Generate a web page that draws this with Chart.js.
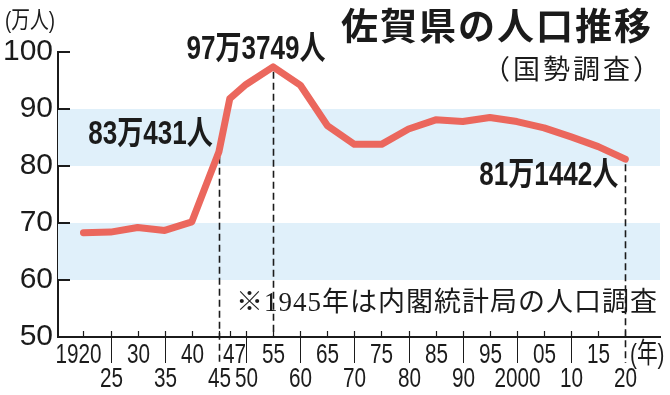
<!DOCTYPE html>
<html>
<head>
<meta charset="utf-8">
<script src="https://cdn.jsdelivr.net/npm/chart.js@4.4.0/dist/chart.umd.min.js"></script>
<style>
  html, body { margin: 0; padding: 0; background: #fff; }
  #wrap { width: 670px; height: 395px; }
</style>
</head>
<body>
<div id="wrap"><canvas id="popChart" width="670" height="395"></canvas></div>
<script>
// 佐賀県の人口（万人）
const years = [1920, 1925, 1930, 1935, 1940, 1945, 1947, 1950, 1955, 1960, 1965,
               1970, 1975, 1980, 1985, 1990, 1995, 2000, 2005, 2010, 2015, 2020];
const population = [68.3, 68.4, 69.2, 68.7, 70.2, 82.5, 91.8, 94.3, 97.4, 94.2, 87.1,
                    83.8, 83.8, 86.5, 88.1, 87.8, 88.5, 87.8, 86.7, 85.1, 83.4, 81.2];

const tickYears  = [1920, 1925, 1930, 1935, 1940, 1945, 1947, 1950, 1955, 1960, 1965,
                    1970, 1975, 1980, 1985, 1990, 1995, 2000, 2005, 2010, 2015, 2020];
const tickLabels = ['1920', '25', '30', '35', '40', '45', '47', '50', '55', '60', '65',
                    '70', '75', '80', '85', '90', '95', '2000', '05', '10', '15', '20'];
// years whose label sits on the lower row
const lowerRowYears = [1925, 1935, 1945, 1950, 1960, 1970, 1980, 1990, 2000, 2010, 2020];

const yTicks = [50, 60, 70, 80, 90, 100];
const bands = [[60, 70], [80, 90]];

const callouts = [
    { year: 1945, value: 82.5, text: '83万431人' },
    { year: 1955, value: 97.4, text: '97万3749人' },
    { year: 2020, value: 81.2, text: '81万1442人' }
];

const SANS = '"Liberation Sans", "Noto Sans CJK JP", sans-serif';
const INK = '#1b1b1b';

// text squeezed horizontally, like the condensed type of the original
function narrowText(ctx, text, x, y, align, font, sx) {
    ctx.save();
    ctx.font = font;
    ctx.textAlign = align;
    ctx.textBaseline = 'middle';
    ctx.translate(x, y);
    ctx.scale(sx, 1);
    ctx.fillText(text, 0, 0);
    ctx.restore();
}

const decorPlugin = {
    id: 'decor',
    beforeDatasetsDraw(chart) {
        const ctx = chart.ctx, a = chart.chartArea;
        const xs = chart.scales.x, ys = chart.scales.y;
        ctx.save();
        // light blue bands
        ctx.fillStyle = '#e0f0fa';
        bands.forEach(b => {
            const t = ys.getPixelForValue(b[1]), btm = ys.getPixelForValue(b[0]);
            ctx.fillRect(a.left, t, a.right - a.left, btm - t);
        });
        // dashed guide lines
        ctx.strokeStyle = INK;
        ctx.lineWidth = 1.6;
        ctx.setLineDash([7, 4]);
        callouts.forEach(c => {
            const x = Math.round(xs.getPixelForValue(c.year)) + 0.5;
            const yTop = ys.getPixelForValue(c.value) + 5;
            const yEnd = lowerRowYears.includes(c.year) ? a.bottom + 26 : a.bottom;
            ctx.beginPath();
            ctx.moveTo(x, yTop);
            ctx.lineTo(x, yEnd);
            ctx.stroke();
        });
        ctx.setLineDash([]);
        ctx.restore();
    },
    afterDraw(chart) {
        const ctx = chart.ctx, a = chart.chartArea;
        const xs = chart.scales.x, ys = chart.scales.y;
        ctx.save();
        ctx.strokeStyle = INK;
        ctx.fillStyle = INK;
        // y ticks pointing inward
        ctx.lineWidth = 2;
        yTicks.forEach(v => {
            const y = ys.getPixelForValue(v);
            if (v === 50) return;
            ctx.beginPath();
            ctx.moveTo(a.left, y);
            ctx.lineTo(a.left + 12, y);
            ctx.stroke();
        });
        // small x ticks upward, separators below axis, two-row labels
        tickYears.forEach((yr, i) => {
            const x = Math.round(xs.getPixelForValue(yr)) + 0.5;
            ctx.lineWidth = 1.2;
            ctx.beginPath();
            ctx.moveTo(x, a.bottom);
            ctx.lineTo(x, a.bottom - 6);
            ctx.stroke();
            const lower = lowerRowYears.includes(yr);
            const dashed = callouts.some(c => c.year === yr);
            if (lower && !dashed) {
                ctx.lineWidth = 1;
                ctx.beginPath();
                ctx.moveTo(x, a.bottom);
                ctx.lineTo(x, a.bottom + 26);
                ctx.stroke();
            }
            let lx = x;
            if (yr === 1947) lx += 4;
            if (yr === 1920) lx -= 5;
            narrowText(ctx, tickLabels[i], lx, lower ? a.bottom + 42 : a.bottom + 18,
                       'center', '28px ' + SANS, 0.74);
        });

        // title
        ctx.textBaseline = 'middle';
        ctx.textAlign = 'right';
        ctx.letterSpacing = '2px';
        ctx.font = 'bold 37px "Noto Sans CJK JP", sans-serif';
        ctx.fillText('佐賀県の人口推移', 653, 26);
        ctx.letterSpacing = '3px';
        ctx.font = '27px "Noto Sans CJK JP", sans-serif';
        ctx.fillText('（国勢調査）', 663, 69);
        // note
        ctx.letterSpacing = '1px';
        ctx.font = '27px "Liberation Serif", "Noto Sans CJK JP", serif';
        ctx.fillText('※1945年は内閣統計局の人口調査', 658, 304);
        ctx.letterSpacing = '0px';
        // units
        narrowText(ctx, '(万人)', 5, 21, 'left', '24px ' + SANS, 0.78);
        narrowText(ctx, '(年)', 630, a.bottom + 18, 'left', '28px ' + SANS, 0.74);

        // callouts
        const f = 'bold 33px ' + SANS;
        const c0 = callouts[0], c1 = callouts[1], c2 = callouts[2];
        narrowText(ctx, c0.text, xs.getPixelForValue(c0.year) - 6, 135, 'right', f, 0.79);
        narrowText(ctx, c1.text, xs.getPixelForValue(c1.year) - 17, 50, 'center', f, 0.79);
        narrowText(ctx, c2.text, xs.getPixelForValue(c2.year) - 7, 176, 'right', f, 0.79);
        ctx.restore();
    }
};

new Chart(document.getElementById('popChart'), {
    type: 'line',
    data: {
        datasets: [{
            data: years.map((yr, i) => ({ x: yr, y: population[i] })),
            borderColor: '#eb675d',
            borderWidth: 7,
            borderJoinStyle: 'round',
            borderCapStyle: 'round',
            pointRadius: 0,
            tension: 0,
            fill: false
        }]
    },
    options: {
        responsive: false,
        animation: false,
        events: [],
        layout: { padding: { top: 52, right: 10, left: 0, bottom: 0 } },
        plugins: { legend: { display: false }, tooltip: { enabled: false } },
        scales: {
            x: {
                type: 'linear',
                min: 1915.3,
                max: 2026.4,
                afterFit(scale) { scale.height = 58; },
                afterBuildTicks(scale) { scale.ticks = tickYears.map(v => ({ value: v })); },
                grid: { display: false, drawTicks: false },
                border: { display: true, color: INK, width: 2 },
                ticks: { display: false }
            },
            y: {
                min: 50,
                max: 100,
                afterFit(scale) { scale.width = 58; },
                afterBuildTicks(scale) { scale.ticks = yTicks.map(v => ({ value: v })); },
                grid: { display: false, drawTicks: false },
                border: { display: true, color: INK, width: 2 },
                ticks: {
                    padding: 5,
                    color: INK,
                    font: { family: SANS, size: 30 }
                }
            }
        }
    },
    plugins: [decorPlugin]
});
</script>
</body>
</html>
